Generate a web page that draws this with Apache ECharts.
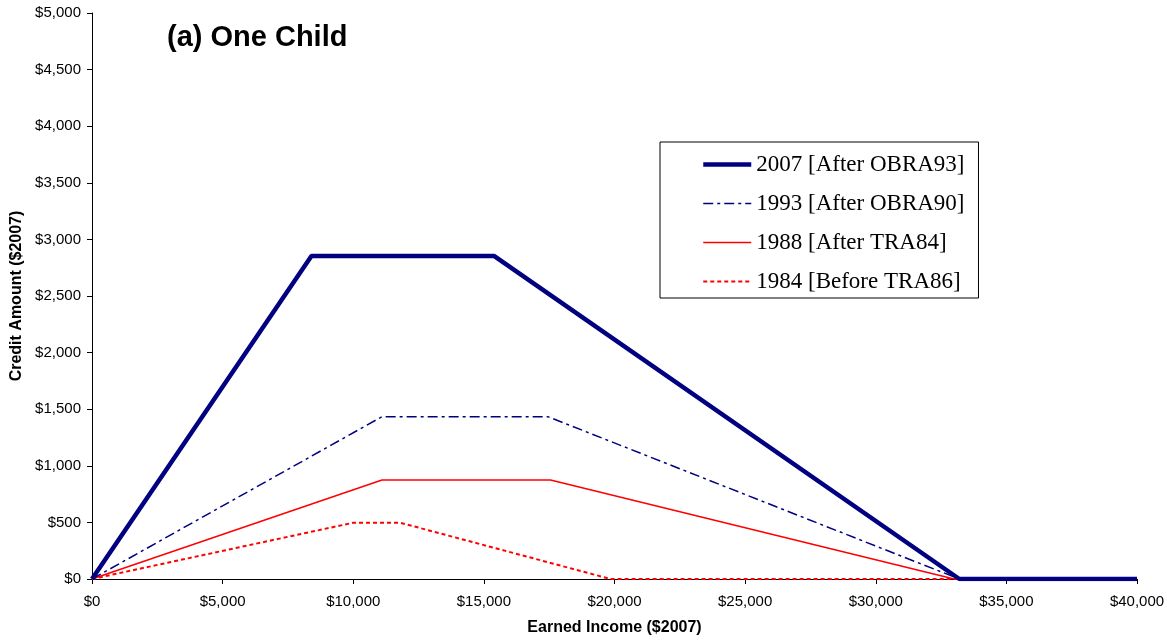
<!DOCTYPE html>
<html><head><meta charset="utf-8">
<script src="https://cdn.jsdelivr.net/npm/echarts@6/dist/echarts.min.js"></script>
<style>html,body{margin:0;padding:0;background:#fff}#c{width:1167px;height:643px}</style>
</head><body><div id="c"></div>
<script>
const seriesNames = ['2007 [After OBRA93]','1993 [After OBRA90]','1988 [After TRA84]','1984 [Before TRA86]'];
const income2007 = [0, 8400, 15400, 33200, 40000];
const credit2007 = [0, 2853, 2853, 0, 0];
const income1993 = [0, 11100, 17450, 33200, 40000];
const credit1993 = [0, 1434, 1434, 0, 0];
const income1988 = [0, 11100, 17550, 33000, 40000];
const credit1988 = [0, 875, 875, 0, 0];
const income1984 = [0, 10000, 11800, 19850, 40000];
const credit1984 = [0, 497, 497, 0, 0];
const xTicks = [0, 40000, 5000];
const yTicks = [0, 5000, 500];

const pair = (xs, ys) => xs.map((x, i) => [x, ys[i]]);
const money = v => '$' + v.toLocaleString('en-US');
const sans = 'Liberation Sans, Arial';
const styles = [
  {color: '#000080', width: 4.5, type: 'solid'},
  {color: '#000080', width: 1.5, type: [10, 4, 3, 4]},
  {color: '#ff0000', width: 1.5, type: 'solid'},
  {color: '#ff0000', width: 2, type: [4, 3]}
];
const chart = echarts.init(document.getElementById('c'));
chart.setOption({
  animation: false,
  grid: {left: 92, right: 30, top: 13, bottom: 64, containLabel: false, outerBoundsMode: 'none'},
  title: {text: '(a) One Child', left: 167, top: 23, padding: 0,
    textStyle: {fontFamily: sans, fontSize: 29, fontWeight: 'bold', color: '#000'}},
  legend: {
    orient: 'vertical', left: 660, top: 142,
    padding: [11, 14, 5, 41], itemGap: 16, itemWidth: 48, itemHeight: 23,
    borderColor: '#000', borderWidth: 1, backgroundColor: '#fff',
    itemStyle: {opacity: 0},
    textStyle: {fontFamily: 'Liberation Serif, Times New Roman', fontSize: 23, color: '#000', padding: [2,0,0,0]},
    data: seriesNames.map((n, i) => ({name: n, lineStyle: styles[i], itemStyle: {opacity: 0}}))
  },
  xAxis: {
    type: 'value', min: xTicks[0], max: xTicks[1], interval: xTicks[2],
    name: 'Earned Income ($2007)', nameLocation: 'middle', nameGap: 41,
    nameTextStyle: {fontFamily: sans, fontSize: 16, fontWeight: 'bold', color: '#000'},
    axisLine: {lineStyle: {color: '#000', width: 1}},
    axisTick: {show: true, length: 5, lineStyle: {color: '#000'}},
    axisLabel: {formatter: money, fontFamily: sans, fontSize: 15, color: '#000', margin: 15},
    splitLine: {show: false}
  },
  yAxis: {
    type: 'value', min: yTicks[0], max: yTicks[1], interval: yTicks[2],
    name: 'Credit Amount ($2007)', nameLocation: 'middle', nameGap: 67,
    nameTextStyle: {fontFamily: sans, fontSize: 16, fontWeight: 'bold', color: '#000'},
    axisLine: {show: true, lineStyle: {color: '#000', width: 1}},
    axisTick: {show: true, length: 5, lineStyle: {color: '#000'}},
    axisLabel: {formatter: money, fontFamily: sans, fontSize: 15, color: '#000', margin: 11},
    splitLine: {show: false}
  },
  series: [
    {name: seriesNames[0], type: 'line', symbol: 'none', z: 4,
     data: pair(income2007, credit2007), lineStyle: styles[0], itemStyle: {color: styles[0].color}},
    {name: seriesNames[1], type: 'line', symbol: 'none', z: 3,
     data: pair(income1993, credit1993), lineStyle: styles[1], itemStyle: {color: styles[1].color}},
    {name: seriesNames[2], type: 'line', symbol: 'none', z: 2,
     data: pair(income1988, credit1988), lineStyle: styles[2], itemStyle: {color: styles[2].color}},
    {name: seriesNames[3], type: 'line', symbol: 'none', z: 1,
     data: pair(income1984, credit1984), lineStyle: styles[3], itemStyle: {color: styles[3].color}}
  ]
});
</script></body></html>
